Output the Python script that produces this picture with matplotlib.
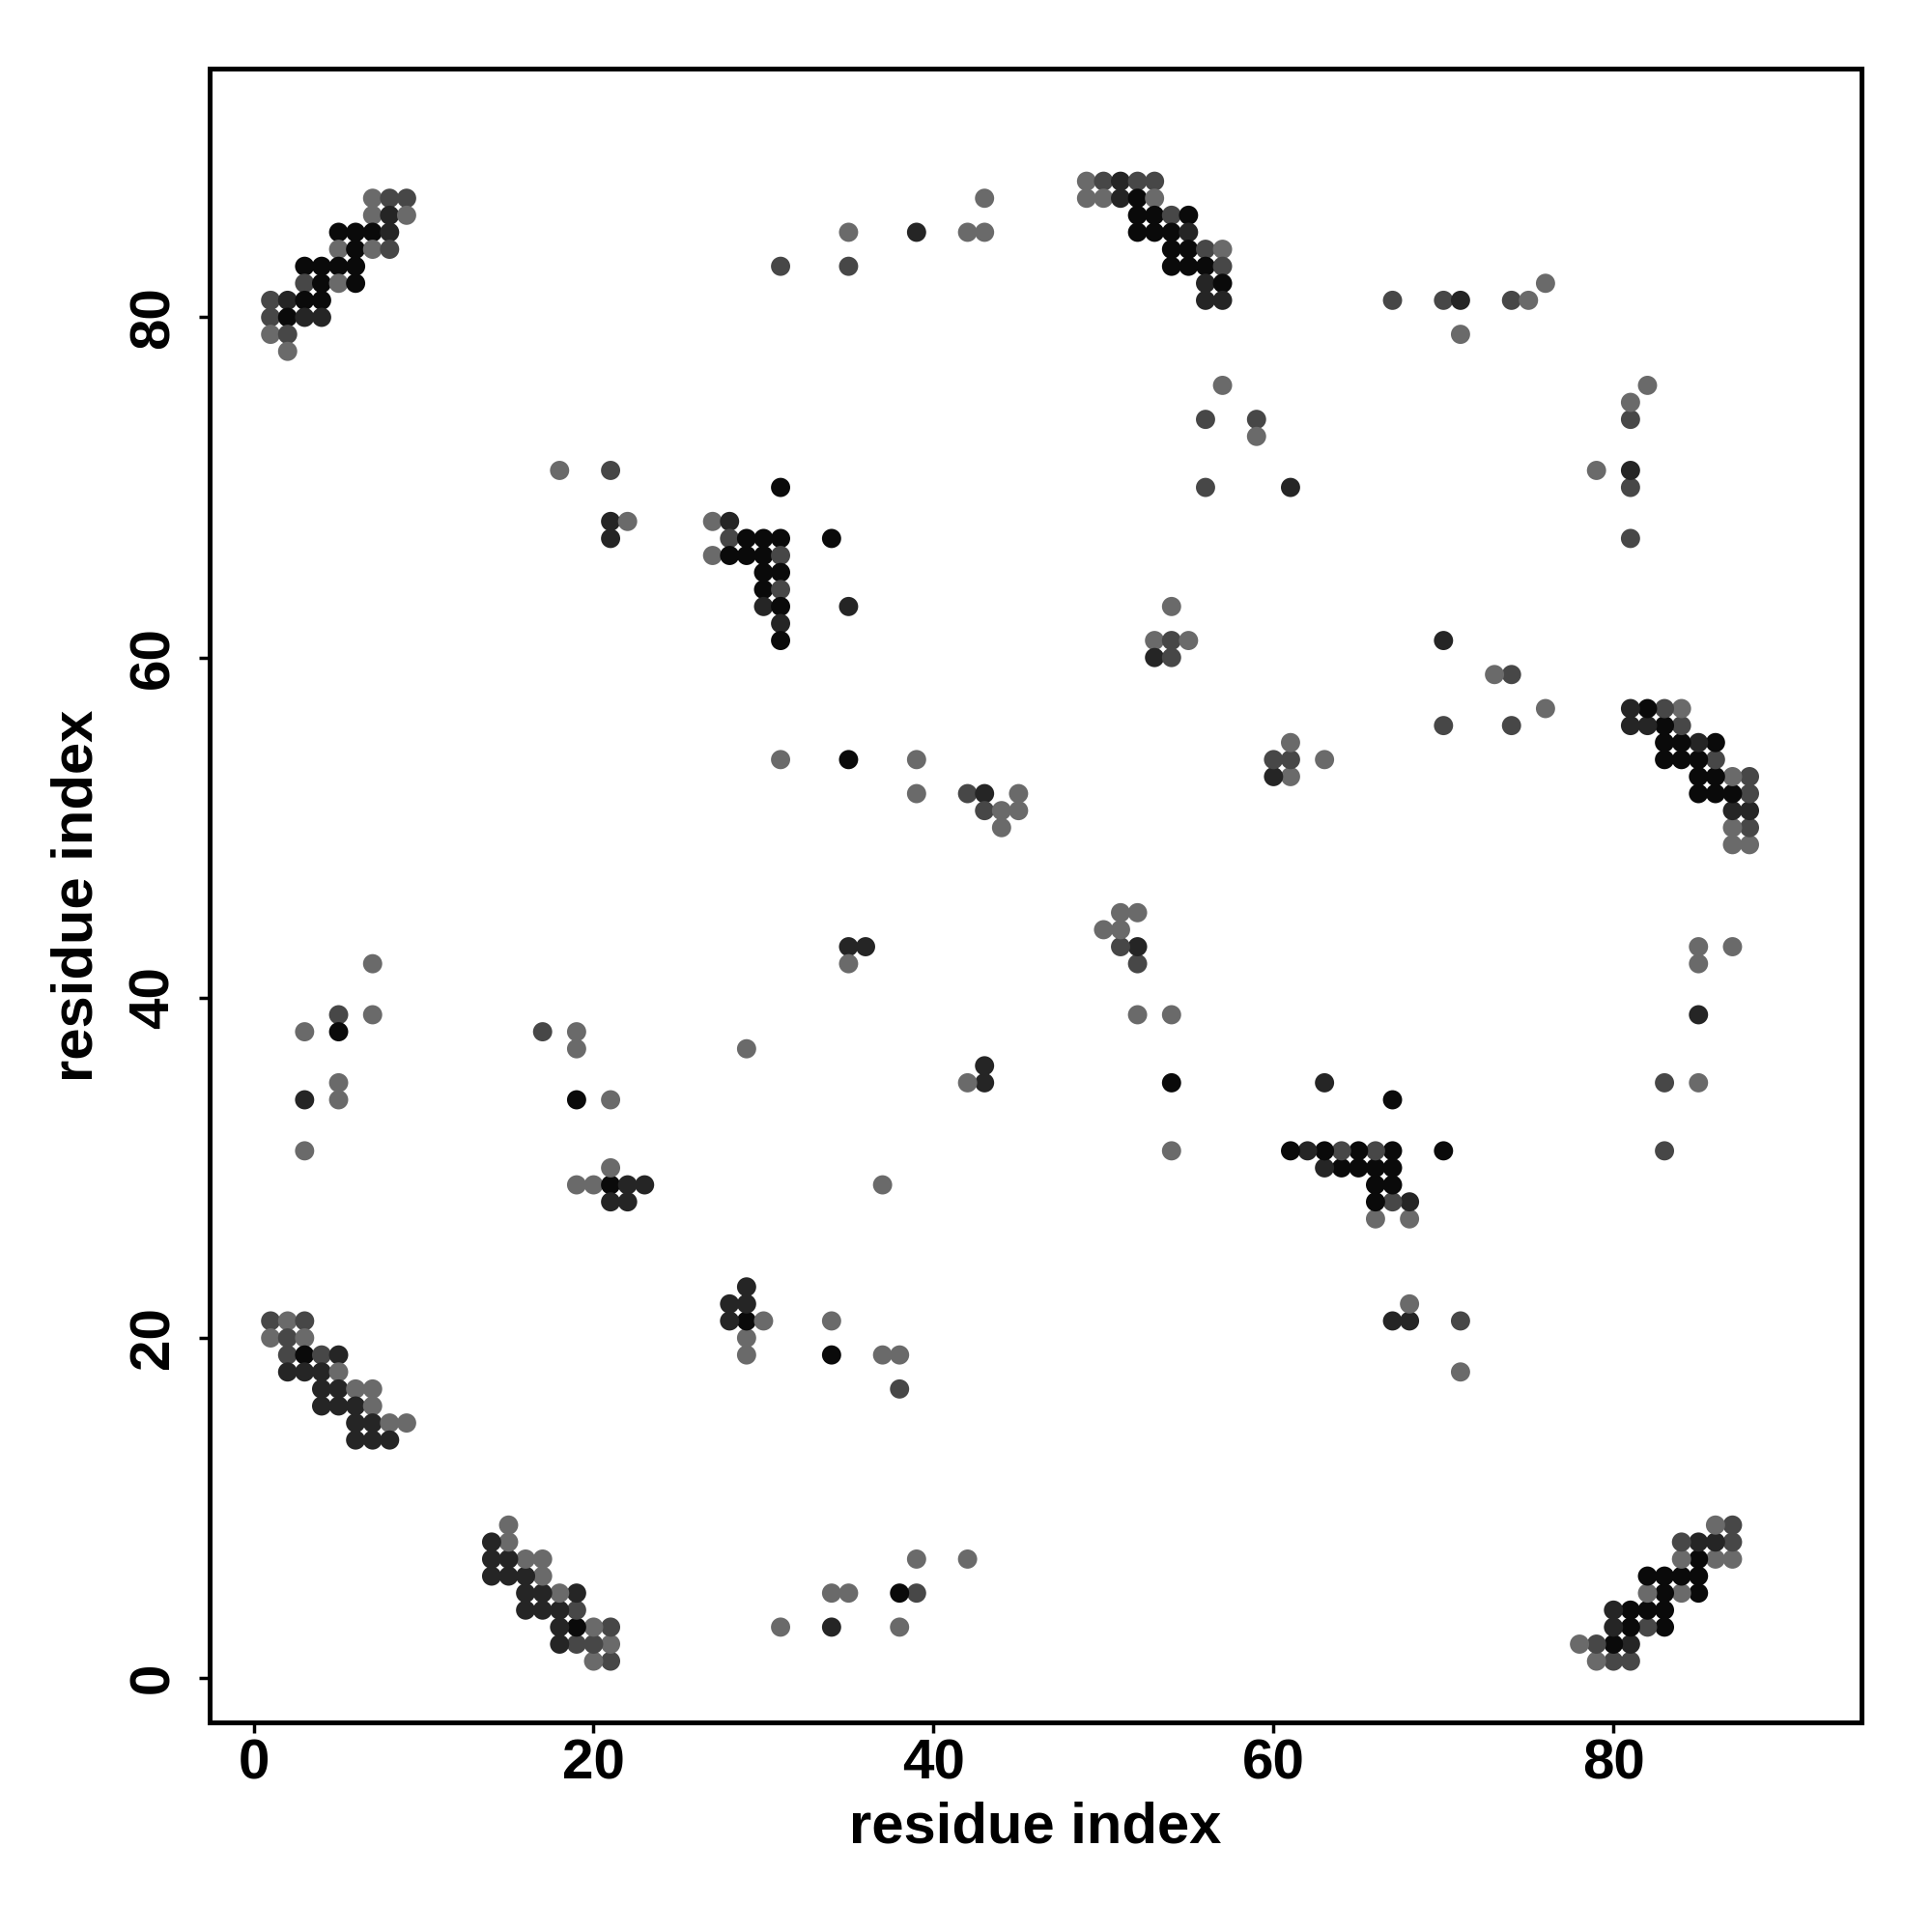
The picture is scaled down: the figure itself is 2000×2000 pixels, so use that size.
import matplotlib
matplotlib.use('Agg')
import matplotlib.pyplot as plt
import numpy as np

# contact map is symmetric: list the upper triangle (res_i < res_j) only
# shade: 0 = black ... 3 = medium grey
res_i = [7, 8, 9, 7, 8, 9, 5, 6, 7, 8, 5, 6, 7, 8, 3, 4, 5, 6, 3, 4, 5, 6,
         1, 2, 3, 4, 1, 2, 3, 4, 1, 2, 2,
         18, 21, 21, 22, 21,
         27, 28, 28, 29, 30, 31, 27, 28, 29, 30, 31, 30, 31, 30, 31, 30, 31, 31, 31,
         31, 34, 35,
         31, 35, 35, 39, 42, 43, 43,
         49, 50, 51, 52, 53, 49, 50, 51, 52, 53, 52, 53, 54, 55, 52, 53, 54, 55,
         54, 55, 56, 57, 54, 55, 56, 57, 56, 57, 56, 57,
         57, 56, 59, 59, 56, 61,
         76, 67, 70, 71, 74, 75, 71,
         53, 54, 55, 53, 54, 54,
         31, 35, 39, 39, 42, 43, 45, 43, 44, 45, 44,
         35, 36, 35,
         29, 17, 19, 19, 19, 21,
         3, 5, 5, 7, 7, 3, 5, 5, 3,
         19, 20, 21, 22, 23, 21, 22, 21,
         1, 2, 3, 1, 2, 3, 2, 3, 4, 5, 2, 3, 4, 5, 4, 5, 6, 7, 4, 5, 6, 7,
         6, 7, 8, 9, 6, 7, 8]
res_j = [87, 87, 87, 86, 86, 86, 85, 85, 85, 85, 84, 84, 84, 84, 83, 83, 83, 83, 82, 82, 82, 82,
         81, 81, 81, 81, 80, 80, 80, 80, 79, 79, 78,
         71, 71, 68, 68, 67,
         68, 68, 67, 67, 67, 67, 66, 66, 66, 66, 66, 65, 65, 64, 64, 63, 63, 62, 61,
         70, 67, 63,
         83, 83, 85, 85, 85, 85, 87,
         88, 88, 88, 88, 88, 87, 87, 87, 87, 87, 86, 86, 86, 86, 85, 85, 85, 85,
         84, 84, 84, 84, 83, 83, 83, 83, 82, 82, 81, 81,
         76, 74, 74, 73, 70, 70,
         82, 81, 81, 81, 81, 81, 79,
         61, 61, 61, 60, 60, 63,
         54, 54, 54, 52, 52, 52, 52, 51, 51, 51, 50,
         43, 43, 42,
         37, 38, 38, 37, 34, 34,
         38, 39, 38, 39, 42, 34, 34, 35, 31,
         29, 29, 29, 29, 29, 28, 28, 30,
         21, 21, 21, 20, 20, 20, 19, 19, 19, 19, 18, 18, 18, 18, 17, 17, 17, 17, 16, 16, 16, 16,
         15, 15, 15, 15, 14, 14, 14]
shade = [3, 2, 2, 3, 1, 3, 0, 0, 0, 1, 3, 0, 3, 2, 0, 0, 0, 0, 2, 0, 3, 0,
         2, 1, 0, 0, 2, 0, 1, 1, 3, 2, 3,
         3, 2, 1, 3, 1,
         3, 1, 2, 0, 0, 0, 3, 0, 0, 0, 2, 0, 0, 0, 2, 1, 0, 1, 0,
         0, 0, 1,
         2, 2, 3, 1, 3, 3, 3,
         3, 2, 1, 2, 2, 3, 3, 1, 0, 3, 0, 0, 2, 0, 0, 0, 0, 1,
         0, 0, 2, 3, 0, 0, 0, 2, 1, 0, 1, 1,
         3, 2, 2, 3, 2, 1,
         3, 2, 2, 1, 2, 3, 3,
         3, 2, 3, 1, 2, 3,
         3, 0, 3, 3, 2, 1, 3, 2, 3, 3, 3,
         1, 1, 3,
         3, 2, 3, 3, 0, 3,
         3, 2, 0, 3, 3, 1, 3, 3, 3,
         3, 3, 0, 1, 1, 1, 1, 3,
         2, 3, 2, 3, 2, 3, 2, 0, 2, 1, 1, 1, 1, 3, 1, 1, 3, 3, 1, 1, 1, 3,
         1, 1, 3, 3, 1, 1, 1]
grey_levels = ['#0a0a0a', '#252525', '#474747', '#6a6a6a']
ticks = [0, 20, 40, 60, 80]

plt.rcParams['font.family'] = ['Liberation Sans', 'DejaVu Sans']
plt.rcParams['font.weight'] = 'bold'

fig = plt.figure(figsize=(20, 20), dpi=100)
ax = fig.add_axes([0.1084, 0.1085, 0.8552, 0.8558])

xs = np.concatenate([res_i, res_j])
ys = np.concatenate([res_j, res_i])
cols = [grey_levels[s] for s in shade] * 2
ax.scatter(xs, ys, s=205, c=cols, linewidths=0, zorder=3)

ax.set_xlim(-2.6, 94.6)
ax.set_ylim(-2.6, 94.6)
ax.set_xticks(ticks)
ax.set_yticks(ticks)
ax.set_xticklabels([str(t) for t in ticks], fontsize=42, fontweight='bold')
ax.set_yticklabels([str(t) for t in ticks], fontsize=42, fontweight='bold',
                   rotation=90, va='center')
ax.tick_params(axis='x', length=8, width=2.5, pad=4)
ax.tick_params(axis='y', length=8, width=2.5, pad=14)
for sp in ax.spines.values():
    sp.set_linewidth(3.6)

ax.set_xlabel('residue index', fontsize=43, fontweight='bold', labelpad=8)
ax.set_ylabel('residue index', fontsize=43, fontweight='bold', labelpad=18)

fig.savefig('out.png', dpi=100)
